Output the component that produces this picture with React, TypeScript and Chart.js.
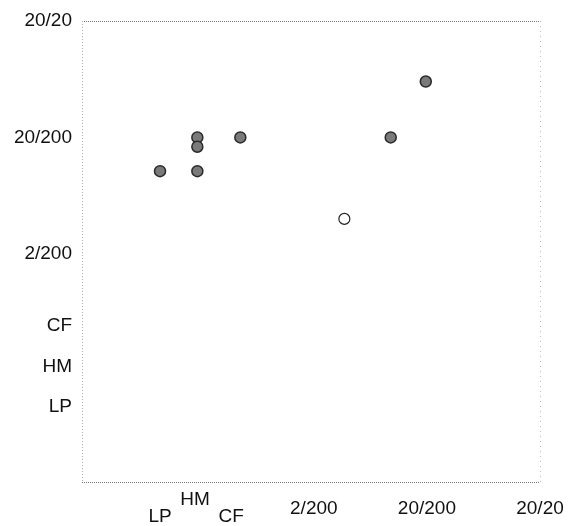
import React, { useEffect, useRef } from "react";
import { Chart, registerables } from "chart.js";

Chart.register(...registerables);

// Acuity coded as log10(decimal acuity); CF/HM/LP placed as on the chart
const xTickValues = [-3.36, -3.05, -2.73, -2, -1, 0];
const xTickLabels: (string | string[])[] = [["", "LP"], ["HM", ""], ["", "CF"], "2/200", "20/200", "20/20"];
const yTickValues = [0, -1, -2, -2.62, -2.97, -3.31];
const yTickLabels = ["20/20", "20/200", "2/200", "CF", "HM", "LP"];

const filledX = [-3.36, -3.03, -3.03, -3.03, -2.65, -1.32, -1.01];
const filledY = [-1.29, -1.0, -1.08, -1.29, -1.0, -1.0, -0.52];
const openX = [-1.73];
const openY = [-1.7];

const framePlugin = {
  id: "frame",
  afterDraw(chart: any) {
    const { ctx, chartArea } = chart;
    const { left, right, top, bottom } = chartArea;
    ctx.save();
    ctx.lineWidth = 1;
    const line = (x1: number, y1: number, x2: number, y2: number, color: string, dash: number[]) => {
      ctx.beginPath();
      ctx.setLineDash(dash);
      ctx.strokeStyle = color;
      ctx.moveTo(x1, y1);
      ctx.lineTo(x2, y2);
      ctx.stroke();
    };
    line(left, top + 0.5, right, top + 0.5, "#777", [1, 1]);
    line(left, bottom + 0.5, right, bottom + 0.5, "#777", [1, 1]);
    line(left + 0.5, top, left + 0.5, bottom, "#aaa", [1, 2]);
    line(right + 0.5, top, right + 0.5, bottom, "#bbb", [1, 4]);
    ctx.restore();
  },
};

export default function App() {
  const ref = useRef<HTMLCanvasElement | null>(null);
  useEffect(() => {
    if (!ref.current) return;
    const font = { family: "'Liberation Sans', Arial, sans-serif", size: 19, lineHeight: 0.9 };
    const chart = new Chart(ref.current, {
      type: "scatter",
      data: {
        datasets: [
          {
            label: "filled",
            data: filledX.map((x, i) => ({ x, y: filledY[i] })),
            backgroundColor: "#7a7a7a",
            borderColor: "#2a2a2a",
            borderWidth: 1.5,
            pointRadius: 5.5,
          },
          {
            label: "open",
            data: openX.map((x, i) => ({ x, y: openY[i] })),
            backgroundColor: "#ffffff",
            borderColor: "#222",
            borderWidth: 1.2,
            pointRadius: 5.5,
          },
        ],
      },
      options: {
        animation: false,
        responsive: false,
        layout: { padding: { left: 0, right: 34, top: 21, bottom: 0 } },
        plugins: { legend: { display: false }, tooltip: { enabled: false } },
        scales: {
          x: {
            type: "linear",
            min: -4.05,
            max: 0,
            grid: { display: false, drawTicks: false },
            border: { display: false },
            afterBuildTicks: (axis: any) => {
              axis.ticks = xTickValues.map((v) => ({ value: v }));
            },
            afterFit: (axis: any) => {
              axis.height = 44;
              axis.paddingLeft = 0;
              axis.paddingRight = 0;
            },
            ticks: {
              autoSkip: false,
              maxRotation: 0,
              minRotation: 0,
              padding: 18,
              crossAlign: "center",
              color: "#111",
              font,
              callback: (v: any) => {
                const i = xTickValues.indexOf(Number(v));
                return i >= 0 ? xTickLabels[i] : "";
              },
            },
          },
          y: {
            type: "linear",
            min: -3.96,
            max: 0,
            grid: { display: false, drawTicks: false },
            border: { display: false },
            afterBuildTicks: (axis: any) => {
              axis.ticks = yTickValues.map((v) => ({ value: v }));
            },
            afterFit: (axis: any) => {
              axis.width = 82;
              axis.paddingTop = 0;
              axis.paddingBottom = 0;
            },
            ticks: {
              autoSkip: false,
              padding: 10,
              color: "#111",
              font: { family: "'Liberation Sans', Arial, sans-serif", size: 19 },
              callback: (v: any) => {
                const i = yTickValues.indexOf(Number(v));
                return i >= 0 ? yTickLabels[i] : "";
              },
            },
          },
        },
      },
      plugins: [framePlugin],
    } as any);
    return () => chart.destroy();
  }, []);
  return (
    <div style={{ position: "absolute", left: 0, top: 0, width: 574, height: 526, background: "#fff" }}>
      <canvas ref={ref} width={574} height={526} style={{ display: "block" }} />
    </div>
  );
}
